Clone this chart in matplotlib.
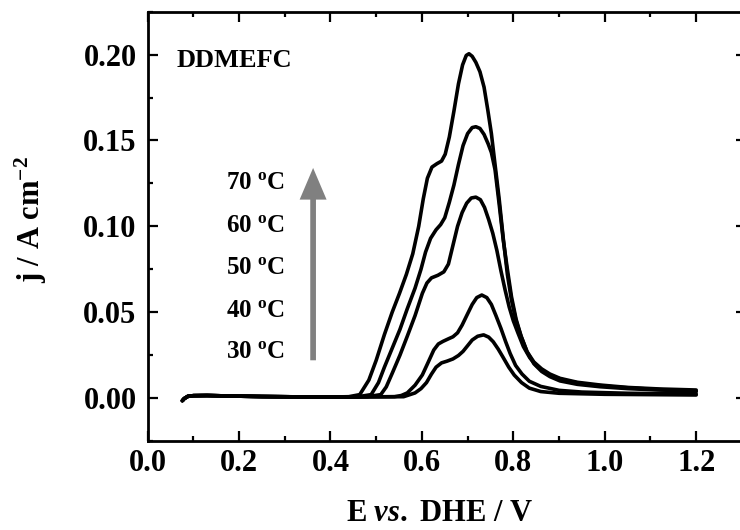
import numpy as np
import matplotlib
matplotlib.use('agg')
import matplotlib.pyplot as plt
from matplotlib.ticker import MultipleLocator, FormatStrFormatter

plt.rcParams['font.family'] = ['Liberation Serif', 'DejaVu Serif']
plt.rcParams['font.weight'] = 'bold'
plt.rcParams['mathtext.fontset'] = 'custom'
plt.rcParams['mathtext.rm'] = 'Liberation Serif:bold'
plt.rcParams['mathtext.bf'] = 'Liberation Serif:bold'
plt.rcParams['mathtext.it'] = 'Liberation Serif:italic:bold'
plt.rcParams['mathtext.default'] = 'rm'

# common flat part before the oxidation onset (E in V, j in A cm-2)
base_e = [0.076, 0.080, 0.088, 0.10, 0.13, 0.18, 0.25, 0.33, 0.40]
base_j = [-0.0015, -0.0003, 0.0010, 0.0014, 0.0015, 0.0012, 0.0009, 0.0007, 0.0006]

temps = [30, 40, 50, 60, 70]

e_30 = [0.56, 0.585, 0.598, 0.610, 0.621, 0.631, 0.643, 0.655, 0.668, 0.680,
        0.690, 0.700, 0.710, 0.722, 0.735, 0.746, 0.756, 0.767, 0.777, 0.790,
        0.802, 0.818, 0.835, 0.860, 0.90, 1.0, 1.2]
j_30 = [0.0008, 0.003, 0.0055, 0.0090, 0.014, 0.0180, 0.0205, 0.0215, 0.0228, 0.0248,
        0.0272, 0.0305, 0.0338, 0.0360, 0.0368, 0.0355, 0.0328, 0.0285, 0.0240, 0.0180,
        0.0134, 0.0090, 0.0058, 0.0038, 0.0028, 0.0022, 0.0018]

e_40 = [0.54, 0.555, 0.568, 0.585, 0.601, 0.614, 0.626, 0.636, 0.646, 0.658,
        0.668, 0.678, 0.688, 0.698, 0.710, 0.720, 0.731, 0.742, 0.752, 0.762,
        0.773, 0.783, 0.793, 0.805, 0.819, 0.835, 0.860, 0.90, 0.95, 1.05, 1.2]
j_40 = [0.0008, 0.0015, 0.003, 0.0075, 0.0135, 0.021, 0.028, 0.0315, 0.033, 0.0345,
        0.0357, 0.038, 0.0425, 0.048, 0.0545, 0.0585, 0.0600, 0.0585, 0.0545, 0.048,
        0.0405, 0.033, 0.026, 0.019, 0.0140, 0.0098, 0.0068, 0.0045, 0.0035, 0.0028, 0.0024]

e_50 = [0.48, 0.510, 0.522, 0.535, 0.552, 0.568, 0.585, 0.601, 0.611, 0.621,
        0.635, 0.648, 0.658, 0.668, 0.678, 0.688, 0.698, 0.708, 0.718, 0.728,
        0.737, 0.746, 0.755, 0.764, 0.773, 0.782, 0.791, 0.800, 0.810, 0.822,
        0.836, 0.850, 0.870, 0.890, 0.92, 0.96, 1.02, 1.10, 1.2]
j_50 = [0.0008, 0.002, 0.0065, 0.0144, 0.025, 0.036, 0.048, 0.061, 0.067, 0.070,
        0.0715, 0.0735, 0.078, 0.089, 0.100, 0.108, 0.1135, 0.1165, 0.117, 0.1155,
        0.111, 0.104, 0.096, 0.086, 0.074, 0.063, 0.053, 0.045, 0.038, 0.030,
        0.0235, 0.019, 0.0148, 0.0122, 0.0098, 0.0080, 0.0065, 0.0052, 0.0038]

e_60 = [0.46, 0.489, 0.505, 0.518, 0.535, 0.552, 0.568, 0.585, 0.598, 0.608,
        0.619, 0.631, 0.641, 0.650, 0.660, 0.670, 0.680, 0.690, 0.700, 0.710,
        0.718, 0.727, 0.736, 0.745, 0.752, 0.760, 0.769, 0.778, 0.787, 0.796,
        0.806, 0.817, 0.830, 0.845, 0.862, 0.880, 0.902, 0.94, 0.99, 1.05, 1.12, 1.2]
j_60 = [0.0008, 0.002, 0.009, 0.018, 0.029, 0.040, 0.052, 0.064, 0.075, 0.085,
        0.093, 0.098, 0.101, 0.105, 0.114, 0.124, 0.136, 0.147, 0.154, 0.1575,
        0.158, 0.157, 0.1535, 0.148, 0.143, 0.133, 0.113, 0.092, 0.075, 0.059,
        0.046, 0.036, 0.027, 0.020, 0.0155, 0.0125, 0.010, 0.008, 0.0066, 0.0055, 0.0047, 0.0041]

e_70 = [0.44, 0.464, 0.484, 0.50, 0.518, 0.535, 0.551, 0.566, 0.580, 0.593,
        0.603, 0.612, 0.622, 0.633, 0.643, 0.651, 0.660, 0.670, 0.680, 0.689,
        0.697, 0.703, 0.710, 0.718, 0.727, 0.736, 0.744, 0.752, 0.760, 0.769,
        0.778, 0.787, 0.796, 0.806, 0.817, 0.830, 0.845, 0.862, 0.880, 0.902,
        0.94, 0.99, 1.05, 1.12, 1.2]
j_70 = [0.0008, 0.002, 0.0105, 0.022, 0.037, 0.050, 0.061, 0.072, 0.084, 0.100,
        0.116, 0.128, 0.1345, 0.1365, 0.138, 0.142, 0.152, 0.167, 0.183, 0.194,
        0.1995, 0.2005, 0.199, 0.1955, 0.190, 0.181, 0.168, 0.154, 0.136, 0.116,
        0.093, 0.072, 0.057, 0.045, 0.036, 0.027, 0.021, 0.017, 0.014, 0.0115,
        0.0092, 0.0076, 0.0062, 0.0053, 0.0047]

curves = [(e_30, j_30), (e_40, j_40), (e_50, j_50), (e_60, j_60), (e_70, j_70)]

fig = plt.figure(figsize=(7.4, 5.3), dpi=100)
# right spine sits just past the picture edge, as in the original
ax = fig.add_axes([0.1995, 0.1679, 0.8086, 0.8101])

for e, j in curves:
    ax.plot(base_e + e, base_j + j, color='black', lw=2.6,
            solid_capstyle='round', solid_joinstyle='round')

ax.set_xlim(0, 1.309)
ax.set_ylim(-0.025, 0.225)

ax.xaxis.set_major_locator(MultipleLocator(0.2))
ax.xaxis.set_minor_locator(MultipleLocator(0.1))
ax.yaxis.set_major_locator(MultipleLocator(0.05))
ax.yaxis.set_minor_locator(MultipleLocator(0.025))
ax.xaxis.set_major_formatter(FormatStrFormatter('%.1f'))
ax.yaxis.set_major_formatter(FormatStrFormatter('%.2f'))

ax.tick_params(which='both', direction='in', top=True, right=True, width=1.6)
ax.tick_params(which='major', length=7, labelsize=22)
ax.tick_params(which='minor', length=3.5)
ax.tick_params(axis='x', pad=6)
ax.tick_params(axis='y', pad=8)
for sp in ax.spines.values():
    sp.set_linewidth(2.0)

ax.set_xlabel(r'E $\mathit{vs.}$ DHE / V', fontsize=22, fontweight='bold')
ax.set_ylabel(r'j / A cm$^{-2}$', fontsize=22, fontweight='bold')
ax.xaxis.set_label_coords(0.487, -0.136)
ax.yaxis.set_label_coords(-0.165, 0.515)

ax.text(0.064, 0.1926, 'DDMEFC', fontsize=19, fontweight='bold',
        ha='left', va='baseline')

label_y = [0.0231, 0.0473, 0.0725, 0.0967, 0.1219]
for t, y in zip(temps, label_y):
    ax.text(0.3007, y, r'%d $^{\mathrm{o}}$C' % t, fontsize=18, fontweight='bold',
            ha='right', va='baseline')

ax.annotate('', xy=(0.362, 0.134), xytext=(0.362, 0.022),
            arrowprops=dict(arrowstyle='simple,head_length=1.14,head_width=0.97,tail_width=0.205',
                            mutation_scale=20, color='#808080', lw=0,
                            shrinkA=0, shrinkB=0))

fig.savefig('out.png', dpi=100)
